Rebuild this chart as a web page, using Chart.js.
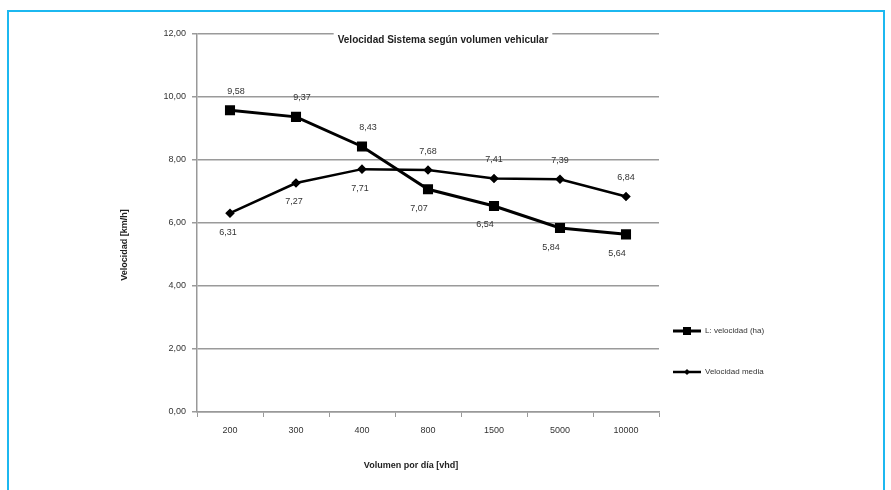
<!DOCTYPE html>
<html>
<head>
<meta charset="utf-8">
<script src="https://cdn.jsdelivr.net/npm/chart.js@4"></script>
<style>
  html, body { margin: 0; padding: 0; background: #fff; }
  .wrap { position: relative; width: 891px; height: 490px; overflow: hidden; }
  .frame {
    position: absolute; left: 7px; top: 10px; width: 874px; height: 500px;
    border: 2px solid #1cb8f0; border-bottom: none;
  }
  canvas { position: absolute; left: 0; top: 0; }
</style>
</head>
<body>
<div class="wrap">
  <div class="frame"></div>
  <canvas id="speedChart" width="891" height="490"></canvas>
</div>
<script>
const volumes = ['200', '300', '400', '800', '1500', '5000', '10000'];
const seriesNames = ['L: velocidad (ha)', 'Velocidad media'];
const freeSpeed = [9.58, 9.37, 8.43, 7.07, 6.54, 5.84, 5.64];
const meanSpeed = [6.31, 7.27, 7.71, 7.68, 7.41, 7.39, 6.84];
// which side of the point each value label sits on (1 = above, -1 = below)
const freeLabelSide = [1, 1, 1, -1, -1, -1, -1];
const meanLabelSide = [-1, -1, -1, 1, 1, 1, 1];

const chartTitle = 'Velocidad Sistema según volumen vehicular';
const yTitle = 'Velocidad [km/h]';
const xTitle = 'Volumen por día [vhd]';

const FONT = '"Liberation Sans", Arial, sans-serif';
const fmt = v => v.toFixed(2).replace('.', ',');

// title, axis titles, value labels and legend drawn on top of the chart
const decorations = {
  id: 'decorations',
  afterDatasetsDraw(chart) {
    const ctx = chart.ctx;
    ctx.save();

    // title sits inside the plot, masking the top grid line
    ctx.font = 'bold 10px ' + FONT;
    const tw = ctx.measureText(chartTitle).width;
    const tx = 443, ty = 40;
    ctx.fillStyle = '#fff';
    ctx.fillRect(tx - tw / 2 - 4, ty - 8, tw + 8, 14);
    ctx.fillStyle = '#222';
    ctx.textAlign = 'center';
    ctx.textBaseline = 'middle';
    ctx.fillText(chartTitle, tx, ty);

    // axis titles
    ctx.font = 'bold 9px ' + FONT;
    ctx.fillText(xTitle, 411, 466);
    ctx.save();
    ctx.translate(125, 245);
    ctx.rotate(-Math.PI / 2);
    ctx.fillText(yTitle, 0, 0);
    ctx.restore();

    // value labels
    ctx.font = '9px ' + FONT;
    ctx.fillStyle = '#333';
    const sides = [freeLabelSide, meanLabelSide];
    chart.data.datasets.forEach((ds, i) => {
      chart.getDatasetMeta(i).data.forEach((pt, j) => {
        const dx = i === 0 ? (j < 3 ? 6 : -9) : (j < 3 ? -2 : 0);
        ctx.fillText(fmt(ds.data[j]), pt.x + dx, pt.y - sides[i][j] * 19);
      });
    });

    // legend
    const rows = [331, 372];
    chart.data.datasets.forEach((ds, i) => {
      const y = rows[i];
      ctx.strokeStyle = '#000';
      ctx.lineWidth = ds.borderWidth;
      ctx.beginPath();
      ctx.moveTo(673, y);
      ctx.lineTo(701, y);
      ctx.stroke();
      ctx.fillStyle = '#000';
      if (i === 0) {
        ctx.fillRect(683, y - 4, 8, 8);
      } else {
        ctx.beginPath();
        ctx.moveTo(687, y - 3);
        ctx.lineTo(690, y);
        ctx.lineTo(687, y + 3);
        ctx.lineTo(684, y);
        ctx.closePath();
        ctx.fill();
      }
      ctx.font = '8px ' + FONT;
      ctx.fillStyle = '#333';
      ctx.textAlign = 'left';
      ctx.fillText(ds.label, 705, y);
    });

    ctx.restore();
  }
};

new Chart(document.getElementById('speedChart').getContext('2d'), {
  type: 'line',
  data: {
    labels: volumes,
    datasets: [{
      label: seriesNames[0],
      data: freeSpeed,
      borderColor: '#000',
      backgroundColor: '#000',
      borderWidth: 3,
      pointStyle: 'rect',
      pointRadius: 5,
      pointHoverRadius: 5,
      tension: 0
    }, {
      label: seriesNames[1],
      data: meanSpeed,
      borderColor: '#000',
      backgroundColor: '#000',
      borderWidth: 2.5,
      pointStyle: 'rectRot',
      pointRadius: 3,
      pointHoverRadius: 3,
      tension: 0
    }]
  },
  options: {
    responsive: false,
    animation: false,
    layout: { padding: { left: 110, right: 232, top: 34, bottom: 40 } },
    scales: {
      x: {
        offset: true,
        grid: {
          offset: true,
          drawOnChartArea: false,
          drawTicks: true,
          tickLength: 5,
          color: '#999'
        },
        border: { color: '#999', width: 1.5 },
        ticks: { color: '#333', font: { family: FONT, size: 9 }, padding: 8, maxRotation: 0 },
        afterFit: scale => { scale.height = 38; }
      },
      y: {
        min: 0,
        max: 12,
        ticks: {
          stepSize: 2,
          color: '#333',
          font: { family: FONT, size: 9 },
          padding: 6,
          callback: v => fmt(v)
        },
        grid: { color: '#9a9a9a', lineWidth: 1.5, tickLength: 5 },
        border: { color: '#999', width: 1.5 },
        afterFit: scale => { scale.width = 87; }
      }
    },
    plugins: {
      legend: { display: false },
      tooltip: { enabled: false }
    }
  },
  plugins: [decorations]
});
</script>
</body>
</html>
